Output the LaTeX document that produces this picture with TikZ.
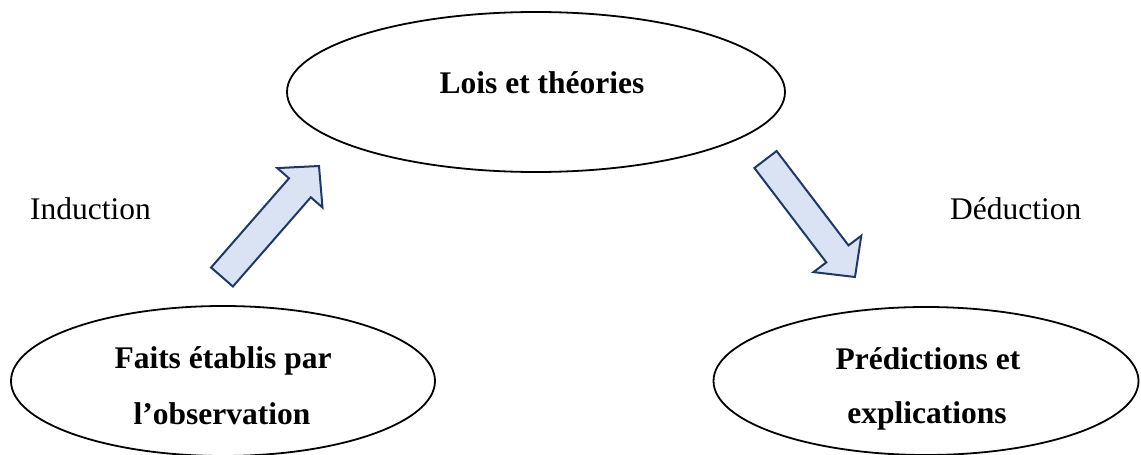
\documentclass[tikz,border=0pt]{standalone}
\usepackage{fontspec}
\setmainfont{Liberation Serif}
\usetikzlibrary{shapes.geometric}
\definecolor{arrowfill}{HTML}{DAE3F3}
\definecolor{arrowline}{HTML}{1F3864}
\tikzset{
  oval/.style={ellipse, draw=black, line width=1.8pt, inner sep=0pt},
  lbl/.style={anchor=base, inner sep=0pt, font=\fontsize{31.5}{38}\selectfont},
  boldlbl/.style={lbl, font=\fontsize{31.5}{38}\selectfont\bfseries},
  blockarrow/.style={fill=arrowfill, draw=arrowline, line width=2pt, line join=miter},
}
\begin{document}
\begin{tikzpicture}[x=1pt,y=-1pt]
\useasboundingbox (0,0) rectangle (1141,455);
\clip (0,0) rectangle (1141,455);
% ellipses
\node[oval, minimum width=498pt, minimum height=160pt] (lois) at (536,92) {};
\node[oval, minimum width=424pt, minimum height=150pt] (faits) at (223,381) {};
\node[oval, minimum width=425pt, minimum height=148pt] (pred) at (926,381) {};
% texts
\node[boldlbl] (tlois) at (542,93) {Lois et théories};
\node[boldlbl] (tfaits1) at (223,368) {Faits établis par};
\node[boldlbl] (tfaits2) at (222,424) {l’observation};
\node[boldlbl] (tpred1) at (928,369) {Prédictions et};
\node[boldlbl] (tpred2) at (927,423) {explications};
\node[lbl, anchor=base west] (ind) at (30,219) {Induction};
\node[lbl, anchor=base west] (ded) at (950,219) {Déduction};
% block arrows
\draw[blockarrow] (232.9,286.5) -- (310.8,197.3) -- (322.5,207.5) -- (319,166)
  -- (277.3,168.1) -- (289.0,178.3) -- (211.1,267.5) -- cycle;
\draw[blockarrow] (776.6,151) -- (848.5,245.4) -- (861.3,235.7) -- (855,277)
  -- (813.5,272.1) -- (826.3,262.4) -- (754.4,168) -- cycle;
\end{tikzpicture}
\end{document}
